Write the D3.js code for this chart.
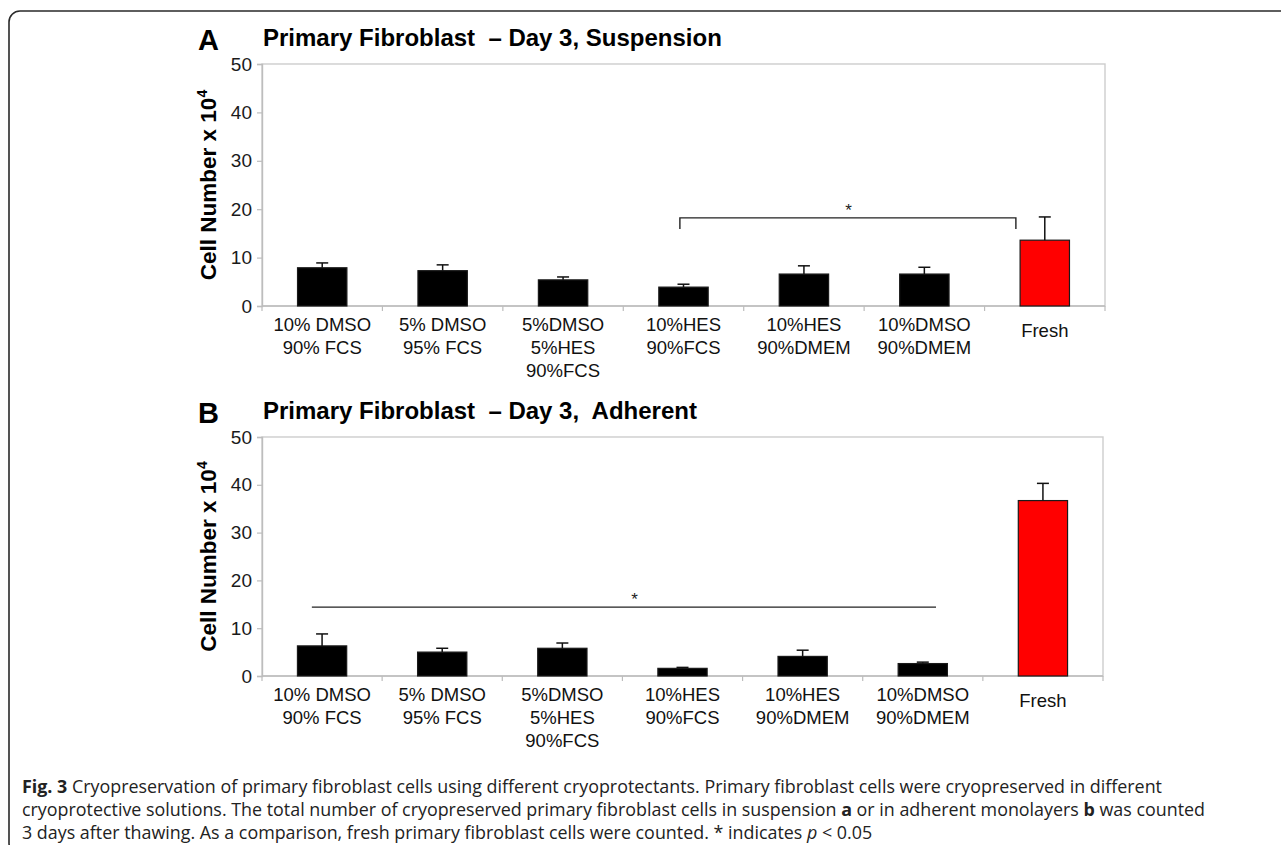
<!DOCTYPE html>
<html><head><meta charset="utf-8">
<script src="https://cdn.jsdelivr.net/npm/d3@7"></script>
<style>body{margin:0;background:#fff} svg{display:block}</style>
</head><body>
<svg id="c" width="1281" height="845"></svg>
<script>
// ---- data ----
const categories = [
  ["10% DMSO", "90% FCS"],
  ["5% DMSO", "95% FCS"],
  ["5%DMSO", "5%HES", "90%FCS"],
  ["10%HES", "90%FCS"],
  ["10%HES", "90%DMEM"],
  ["10%DMSO", "90%DMEM"],
  ["Fresh"]
];
const suspensionMeans = [7.9, 7.3, 5.4, 3.9, 6.6, 6.6, 13.6];
const suspensionErr   = [1.0, 1.2, 0.6, 0.6, 1.7, 1.4, 4.8];
const adherentMeans   = [6.3, 5.0, 5.8, 1.6, 4.1, 2.6, 36.7];
const adherentErr     = [2.5, 0.8, 1.1, 0.2, 1.3, 0.3, 3.6];
const yTicks = [0, 10, 20, 30, 40, 50];
const titleA = "Primary Fibroblast  \u2013 Day 3, Suspension";
const titleB = "Primary Fibroblast  \u2013 Day 3,  Adherent";
// significance marks: positions in category units, y in data units
const sigA = {from: 3.47, to: 6.26, y: 18.2, drop: 15.9, star: 4.87};
const sigB = {from: 0.415, to: 5.61, y: 14.4, star: 3.1};

const FONT = "'Liberation Sans', Arial, sans-serif";
const svg = d3.select("#c");

// outer frame
svg.append("rect").attr("x", 9).attr("y", 11).attr("width", 1330).attr("height", 843)
  .attr("rx", 11).attr("fill", "none").attr("stroke", "#2a2a2a").attr("stroke-width", 1.6);

function panel(o) {
  const n = categories.length;
  const x = d3.scaleBand().domain(d3.range(n)).range([o.left, o.right])
    .paddingInner(0.59).paddingOuter(0.295);
  const y = d3.scaleLinear().domain([0, 50]).range([o.bottom, o.top]);
  const step = x.step();
  const pos = t => o.left + t * step;
  const g = svg.append("g");

  // plot frame
  g.append("rect").attr("x", o.left).attr("y", o.top)
    .attr("width", o.right - o.left).attr("height", o.bottom - o.top)
    .attr("fill", "none").attr("stroke", "#cdcdcd").attr("stroke-width", 1.4);

  // y axis
  const ya = g.append("g").attr("transform", `translate(${o.left},0)`)
    .call(d3.axisLeft(y).tickValues(yTicks).tickSize(5).tickPadding(5));
  ya.select(".domain").attr("stroke", "#bdbdbd").attr("stroke-width", 1.4);
  ya.selectAll(".tick line").attr("stroke", "#bdbdbd").attr("stroke-width", 1.2);
  ya.selectAll("text").attr("font-family", FONT).attr("font-size", 19).attr("fill", "#1a1a1a");

  // x baseline + boundary ticks
  g.append("line").attr("x1", o.left).attr("x2", o.right).attr("y1", y(0)).attr("y2", y(0))
    .attr("stroke", "#bdbdbd").attr("stroke-width", 1.4);
  g.selectAll(".xt").data(d3.range(n + 1)).join("line")
    .attr("x1", i => pos(i)).attr("x2", i => pos(i))
    .attr("y1", y(0)).attr("y2", y(0) + 5).attr("stroke", "#bdbdbd").attr("stroke-width", 1.2);

  // bars
  g.selectAll(".bar").data(o.means).join("rect")
    .attr("x", (d, i) => x(i)).attr("width", x.bandwidth())
    .attr("y", d => y(d)).attr("height", d => y(0) - y(d))
    .attr("fill", (d, i) => i === n - 1 ? "#ff0000" : "#000")
    .attr("stroke", "#1a1a1a").attr("stroke-width", 1.2);

  // error bars (upper only)
  const eg = g.selectAll(".err").data(o.means).join("g");
  eg.append("line")
    .attr("x1", (d, i) => x(i) + x.bandwidth() / 2).attr("x2", (d, i) => x(i) + x.bandwidth() / 2)
    .attr("y1", d => y(d)).attr("y2", (d, i) => y(d + o.errs[i]))
    .attr("stroke", "#111").attr("stroke-width", 1.5);
  eg.append("line")
    .attr("x1", (d, i) => x(i) + x.bandwidth() / 2 - 6).attr("x2", (d, i) => x(i) + x.bandwidth() / 2 + 6)
    .attr("y1", (d, i) => y(d + o.errs[i])).attr("y2", (d, i) => y(d + o.errs[i]))
    .attr("stroke", "#111").attr("stroke-width", 1.5);

  // category labels
  const lab = g.selectAll(".lab").data(categories).join("text")
    .attr("font-family", FONT).attr("font-size", 18.5).attr("fill", "#111")
    .attr("text-anchor", "middle");
  lab.each(function (lines, i) {
    const t = d3.select(this);
    const cx = x(i) + x.bandwidth() / 2;
    lines.forEach((s, j) => {
      t.append("tspan").attr("x", cx)
        .attr("y", y(0) + (lines.length === 1 ? 31 : 25 + j * 23)).text(s);
    });
  });

  // y title
  const yt = g.append("text")
    .attr("transform", `translate(${o.left - 46},${(o.top + o.bottom) / 2}) rotate(-90)`)
    .attr("text-anchor", "middle").attr("font-family", FONT).attr("font-weight", "bold")
    .attr("font-size", 22.5).attr("fill", "#000");
  yt.append("tspan").text("Cell Number x 10");
  yt.append("tspan").attr("font-size", 14).attr("dy", -9).text("4");

  // panel letter + title
  g.append("text").attr("x", o.left - 64).attr("y", o.top - 14)
    .attr("font-family", FONT).attr("font-weight", "bold").attr("font-size", 29).text(o.letter);
  g.append("text").attr("x", o.left + 1).attr("y", o.top - 18)
    .attr("font-family", FONT).attr("font-weight", "bold").attr("font-size", 24)
    .style("white-space", "pre").text(o.title);

  // significance
  const s = o.sig;
  if (s.drop !== undefined) {
    g.append("path")
      .attr("d", `M${pos(s.from)},${y(s.drop)}V${y(s.y)}H${pos(s.to)}V${y(s.drop)}`)
      .attr("fill", "none").attr("stroke", "#222").attr("stroke-width", 1.4);
  } else {
    g.append("line").attr("x1", pos(s.from)).attr("x2", pos(s.to))
      .attr("y1", y(s.y)).attr("y2", y(s.y)).attr("stroke", "#222").attr("stroke-width", 1.4);
  }
  g.append("text").attr("x", pos(s.star)).attr("y", y(s.y) - 2)
    .attr("text-anchor", "middle").attr("font-family", FONT).attr("font-size", 17)
    .attr("fill", "#222").text("*");
}

panel({top: 64, bottom: 306, left: 262, right: 1105, letter: "A", title: titleA,
  means: suspensionMeans, errs: suspensionErr, sig: sigA});
panel({top: 437, bottom: 676, left: 262, right: 1103, letter: "B", title: titleB,
  means: adherentMeans, errs: adherentErr, sig: sigB});

// caption
const CAP = "'Open Sans', 'Noto Sans', sans-serif";
const capLines = [
  [["b", "Fig. 3"], ["n", " Cryopreservation of primary fibroblast cells using different cryoprotectants. Primary fibroblast cells were cryopreserved in different"]],
  [["n", "cryoprotective solutions. The total number of cryopreserved primary fibroblast cells in suspension "], ["b", "a"], ["n", " or in adherent monolayers "], ["b", "b"], ["n", " was counted"]],
  [["n", "3 days after thawing. As a comparison, fresh primary fibroblast cells were counted. * indicates "], ["i", "p"], ["n", " < 0.05"]]
];
const capY = [793, 816, 839];
const capSize = 17.6;
const line1Width = 1140; // first caption line spans from x=22 to about x=1162
const texts = capLines.map((parts, k) => {
  const t = svg.append("text").attr("font-family", CAP).attr("font-size", capSize).attr("fill", "#222")
    .style("white-space", "pre");
  parts.forEach(([st, s]) => {
    const sp = t.append("tspan").text(s);
    if (st === "b") sp.attr("font-weight", "bold");
    if (st === "i") sp.attr("font-style", "italic");
  });
  return t;
});
const sx = line1Width / texts[0].node().getComputedTextLength();
texts.forEach((t, k) => t.attr("transform", `translate(22,${capY[k]}) scale(${sx},1)`));
</script>
</body></html>
